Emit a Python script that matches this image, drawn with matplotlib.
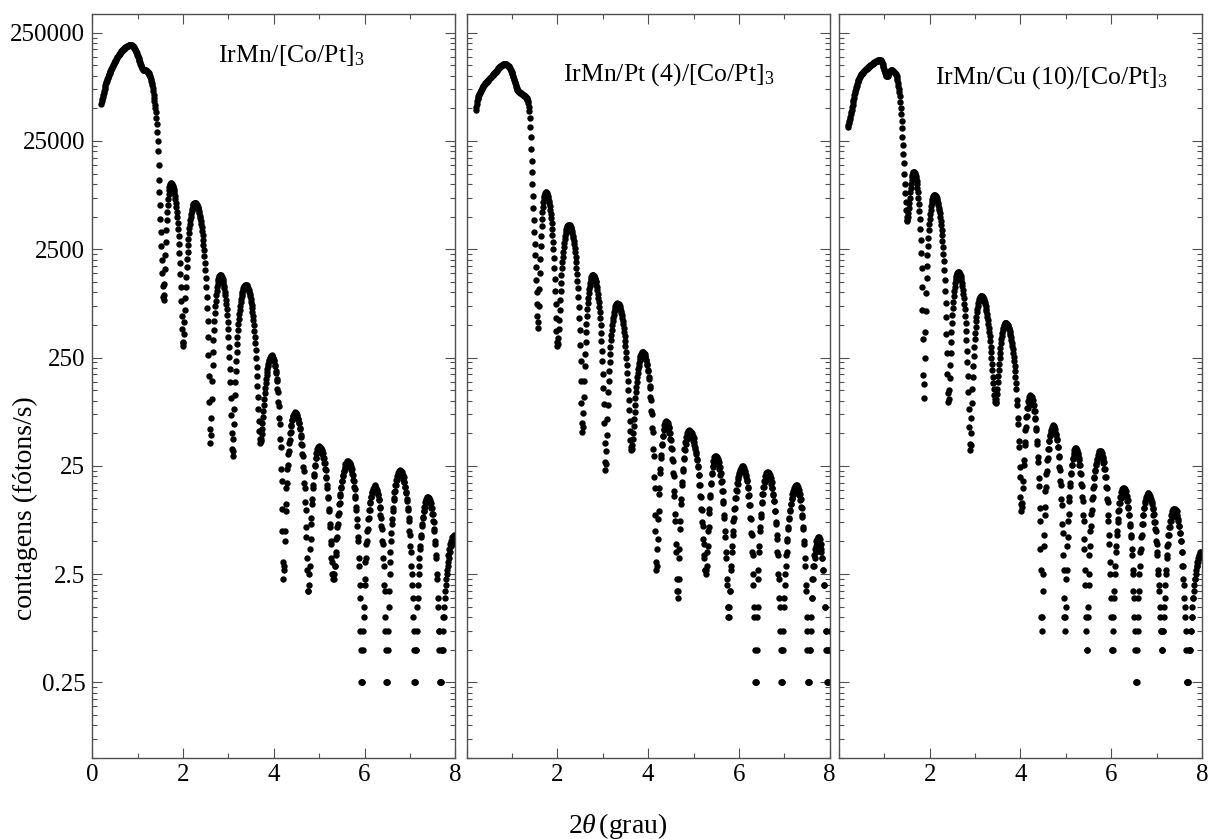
import numpy as np
import matplotlib
matplotlib.use("Agg")
import matplotlib.pyplot as plt
from matplotlib.ticker import FixedLocator, NullFormatter

plt.rcParams['font.family'] = ['Liberation Serif', 'DejaVu Serif']
plt.rcParams['mathtext.fontset'] = 'custom'
plt.rcParams['mathtext.rm'] = 'Liberation Serif'
plt.rcParams['mathtext.it'] = 'Liberation Serif:italic'

# 2theta scan (grau): starts at 0.20, one point every 0.01
scan_start = 0.20
scan_step = 0.01

# contagens (fotons/s)
counts_irmn = [
    55000, 58000, 61000, 64000, 67000, 70000, 73000, 76000, 79000, 82000,
    85000, 88000, 90000, 93000, 96000, 98000, 101000, 103000, 106000, 108000,
    111000, 113000, 116000, 118000, 121000, 123000, 126000, 128000, 131000, 133000,
    136000, 138000, 141000, 143000, 146000, 148000, 151000, 153000, 156000, 158000,
    160000, 162000, 164000, 166000, 168000, 170000, 172000, 174000, 176000, 177000,
    179000, 181000, 182000, 184000, 185000, 186000, 187000, 188000, 189000, 190000,
    191000, 191000, 192000, 192000, 193000, 193000, 192000, 191000, 190000, 188000,
    187000, 185000, 182000, 179000, 176000, 173000, 169000, 165000, 161000, 157000,
    153000, 149000, 145000, 141000, 137000, 133000, 129000, 125000, 122000, 119000,
    117000, 115000, 114000, 113000, 113000, 113000, 113000, 112000, 112000, 111000,
    111000, 110000, 109000, 107000, 106000, 104000, 102000, 100000, 97000, 94000,
    90000, 86000, 82000, 77000, 72000, 67000, 62000, 58000, 54000, 50000,
    46000, 41000, 36000, 30000, 25000, 20000, 15000, 11000, 8500, 6400,
    4800, 3600, 2700, 2000, 1500, 1150, 900, 850, 940, 1200,
    1640, 2220, 2930, 3740, 4610, 5530, 6430, 7310, 8120, 8830,
    9410, 9840, 10110, 10200, 10170, 10070, 9900, 9680, 9390, 9040,
    8650, 8210, 7730, 7220, 6680, 6120, 5550, 4980, 4400, 3850,
    3310, 2800, 2320, 1870, 1480, 1130, 840, 610, 460, 350,
    320, 343, 412, 528, 684, 883, 1124, 1395, 1700, 2040,
    2380, 2750, 3120, 3510, 3890, 4280, 4650, 4990, 5320, 5630,
    5900, 6140, 6340, 6490, 6610, 6680, 6700, 6690, 6640, 6570,
    6470, 6350, 6200, 6030, 5830, 5610, 5380, 5120, 4860, 4570,
    4280, 3980, 3680, 3370, 3070, 2760, 2460, 2160, 1880, 1620,
    1370, 1120, 910, 710, 540, 390, 265, 167, 98, 55,
    41, 48, 69, 104, 153, 212, 282, 362, 450, 542,
    642, 740, 840, 940, 1032, 1120, 1200, 1270, 1328, 1377,
    1412, 1433, 1440, 1435, 1421, 1398, 1365, 1324, 1275, 1219,
    1155, 1088, 1014, 937, 858, 776, 695, 613, 534, 457,
    383, 316, 252, 196, 147, 106, 73, 50, 36, 31,
    34, 44, 61, 83, 112, 147, 187, 232, 281, 333,
    389, 448, 508, 570, 631, 693, 753, 813, 868, 920,
    970, 1014, 1054, 1089, 1118, 1140, 1156, 1166, 1170, 1167,
    1159, 1146, 1127, 1103, 1075, 1042, 1005, 964, 919, 872,
    821, 769, 716, 661, 606, 551, 495, 442, 390, 339,
    292, 247, 206, 169, 136, 108, 84, 65, 52, 44,
    41, 42, 44, 49, 55, 62, 71, 81, 92, 104,
    117, 130, 144, 157, 171, 184, 197, 209, 220, 230,
    239, 248, 250, 259, 256, 262, 257, 258, 249, 247,
    238, 232, 212, 207, 186, 180, 158, 151, 128, 119,
    97, 90, 69, 61, 44, 37, 23.5, 18, 10, 6.25,
    3.25, 2.25, 2.75, 3.0, 5.0, 6.25, 9.5, 11, 15.5, 17.5,
    23.5, 25.5, 32, 34, 41, 43, 50, 51.5, 58.5, 59.5,
    66, 66.5, 72, 71.5, 76, 75, 78, 76, 77.5, 75,
    76.5, 72, 73, 68, 68, 62.5, 62, 55.5, 54.5, 48,
    46.5, 40, 38.5, 32, 30.5, 24.25, 22.5, 17.25, 15.75, 11.5,
    9.75, 6.75, 5.5, 3.5, 2.75, 1.75, 1.75, 2.0, 2.5, 3.0,
    4.25, 5.25, 7.25, 8.25, 11.0, 12.25, 15.5, 16.5, 20.25, 21.0,
    25.0, 25.25, 29.5, 29.25, 33.0, 32.5, 35.75, 35.0, 37.5, 36.0,
    38.0, 36.0, 37.5, 35.25, 36.5, 34.0, 34.75, 32.0, 32.5, 29.5,
    29.75, 26.5, 26.5, 23.25, 23.0, 19.75, 19.25, 16.5, 15.75, 13.0,
    12.5, 10.0, 9.5, 7.25, 6.75, 5.0, 4.75, 3.5, 3.25, 2.5,
    2.5, 2.25, 2.5, 2.25, 3.0, 3.0, 3.75, 4.0, 5.25, 5.5,
    6.75, 7.25, 8.75, 9.25, 11.0, 11.25, 13.25, 13.75, 15.75, 16.0,
    18.0, 18.25, 20.5, 20.25, 22.5, 22.25, 24.25, 23.75, 25.75, 25.0,
    26.75, 26.0, 27.5, 26.25, 27.75, 26.25, 27.25, 25.75, 26.5, 24.5,
    25.0, 23.0, 23.25, 21.0, 20.75, 18.5, 18.25, 16.0, 15.25, 13.25,
    12.5, 10.5, 9.75, 8.0, 7.0, 5.5, 5.0, 3.5, 3.0, 2.0,
    1.5, 0.75, 0.5, 0.25, 0.25, 0.25, 0.5, 0.75, 1.0, 1.25,
    2.0, 2.25, 3.25, 3.5, 4.75, 5.0, 6.25, 6.5, 8.0, 8.25,
    9.75, 9.75, 11.5, 11.25, 13.0, 12.75, 14.25, 14.0, 15.25, 14.75,
    16.0, 15.25, 16.5, 15.5, 16.25, 15.25, 15.75, 14.5, 15.0, 13.5,
    13.75, 12.0, 12.25, 10.5, 10.25, 8.75, 8.25, 7.0, 6.5, 5.0,
    4.75, 3.5, 3.0, 2.0, 1.75, 1.0, 0.75, 0.5, 0.25, 0.25,
    0.25, 0.5, 0.75, 1.25, 1.75, 2.5, 3.25, 4.0, 5.0, 6.0,
    7.25, 8.0, 9.5, 10.25, 12.0, 12.5, 14.25, 14.75, 16.5, 16.75,
    18.5, 18.5, 20.25, 20.0, 21.5, 20.75, 22.5, 21.25, 23.0, 21.5,
    22.25, 21.0, 21.75, 20.25, 20.75, 19.0, 19.5, 17.75, 17.75, 16.0,
    16.0, 14.25, 14.0, 12.25, 11.75, 10.25, 9.75, 8.25, 7.75, 6.25,
    5.75, 4.5, 4.0, 3.0, 2.5, 2.0, 1.5, 1.0, 0.75, 0.5,
    0.25, 0.25, 0.25, 0.5, 0.5, 0.75, 1.25, 1.5, 2.0, 2.5,
    3.0, 3.5, 4.25, 4.5, 5.5, 5.75, 7.0, 7.25, 8.25, 8.5,
    9.5, 9.5, 10.5, 10.5, 11.5, 11.25, 12.25, 12.0, 12.75, 12.25,
    12.75, 12.25, 12.5, 11.75, 12.0, 11.25, 11.25, 10.25, 10.25, 9.0,
    9.0, 7.75, 7.5, 6.5, 6.25, 5.0, 4.75, 3.75, 3.5, 2.5,
    2.25, 1.5, 1.25, 0.75, 0.75, 0.5, 0.25, 0.25, 0.25, 0.25,
    0.5, 0.5, 0.5, 0.75, 1.0, 1.0, 1.25, 1.5, 1.75, 2.0,
    2.25, 2.75, 2.5, 3.25, 3.0, 3.75, 3.5, 4.25, 4.0, 4.75,
    4.5, 5.0, 4.75, 5.5, 5.0, 5.5, 5.25, 5.75, 5.25, 5.5,
    5.25,
]

counts_irmn_pt = [
    48000, 51000, 55000, 58000, 61000, 63000, 65000, 67000, 68000, 69500,
    71000, 72500, 74000, 75500, 77000, 78500, 80000, 81000, 82000, 83000,
    84000, 85000, 86000, 87000, 88000, 89000, 90000, 91000, 92000, 93000,
    94000, 95000, 96000, 97000, 98000, 99000, 100000, 101000, 102000, 103000,
    104000, 105000, 106000, 107500, 109000, 110000, 111500, 113000, 114500, 116000,
    117000, 118500, 120000, 121000, 122000, 123000, 124000, 125000, 126000, 126500,
    127000, 127500, 128000, 128000, 128000, 128000, 128000, 127500, 127000, 126000,
    125000, 124000, 123000, 122000, 120000, 118000, 116000, 114000, 111000, 109000,
    106000, 103000, 100000, 97000, 94000, 91000, 88000, 85000, 82000, 79000,
    77000, 75000, 73500, 72500, 72000, 71500, 71000, 70500, 70000, 69500,
    69000, 68500, 68000, 67500, 67000, 66500, 66000, 65500, 65000, 64500,
    64000, 63000, 62000, 61000, 59500, 58000, 56000, 52000, 47000, 41000,
    34000, 27000, 21000, 16500, 13000, 10000, 7800, 6000, 4700, 3600,
    2800, 2200, 1700, 1300, 1000, 780, 600, 470, 537, 740,
    1065, 1509, 2048, 2667, 3349, 4070, 4800, 5521, 6203, 6822,
    7361, 7805, 8130, 8333, 8400, 8368, 8279, 8133, 7939, 7689,
    7382, 7043, 6655, 6235, 5798, 5330, 4845, 4360, 3867, 3390,
    2930, 2494, 2065, 1677, 1338, 1034, 781, 583, 437, 349,
    320, 335, 381, 456, 560, 691, 846, 1025, 1221, 1434,
    1661, 1896, 2138, 2382, 2624, 2859, 3086, 3299, 3495, 3674,
    3829, 3960, 4064, 4139, 4185, 4200, 4189, 4155, 4098, 4021,
    3922, 3804, 3667, 3514, 3345, 3163, 2969, 2767, 2557, 2343,
    2126, 1908, 1694, 1484, 1282, 1088, 906, 737, 584, 447,
    329, 230, 153, 96, 62, 51, 57.5, 77, 108, 152,
    207, 272, 345, 426, 512, 604, 697, 794, 887, 979,
    1065, 1146, 1219, 1284, 1339, 1383, 1414, 1433, 1440, 1435,
    1422, 1401, 1370, 1331, 1285, 1233, 1173, 1110, 1041, 965,
    888, 811, 732, 652, 575, 498, 422, 353, 290, 230,
    178, 132, 93, 62, 41, 27, 23, 25.75, 34, 48,
    67, 91, 120, 152, 189, 229, 271, 314, 360, 407,
    453, 499, 543, 584, 624, 661, 693, 722, 746, 765,
    778, 787, 790, 788, 782, 773, 760, 743, 722, 699,
    673, 644, 613, 579, 544, 508, 470, 432, 393, 355,
    317, 281, 246, 212, 181, 152, 126, 102, 82, 65,
    52, 43, 37, 35, 36, 39, 44, 50, 58, 68,
    79, 92, 105, 120, 135, 150, 165, 180, 195, 210,
    223, 236, 247, 257, 265, 271, 276, 279, 280, 279,
    277, 270, 271, 255, 256, 238, 238, 216, 214, 192,
    187, 164, 159, 136, 130, 107, 101, 80, 75, 56,
    51, 35.5, 30.5, 19.5, 15.5, 8.75, 6.25, 3.25, 2.75, 3.0,
    4.25, 5.25, 8.0, 9.5, 13.75, 15.75, 21.25, 23.25, 29.75, 31.75,
    38.5, 40, 47, 47.5, 54.5, 54, 60, 58.5, 63.5, 61,
    65, 61, 64, 59, 61.5, 55.5, 56.5, 50, 50.5, 43.75,
    43.25, 36.5, 35.5, 29, 27.5, 21.5, 20, 14.75, 13.25, 9.0,
    7.75, 4.75, 4.0, 2.25, 1.75, 1.5, 1.75, 2.25, 3.5, 4.25,
    6.5, 7.75, 11.0, 12.25, 16.5, 17.75, 22.5, 23.5, 29.0, 29.5,
    35.5, 35.0, 41.25, 40.0, 46.25, 44.0, 50.0, 47.25, 52.0, 49.0,
    53.0, 49.0, 52.5, 48.25, 51.5, 47.0, 49.75, 45.0, 47.5, 42.25,
    44.75, 39.25, 41.25, 36.0, 37.5, 32.25, 33.5, 28.25, 29.0, 24.5,
    24.75, 20.5, 20.5, 16.75, 16.5, 13.25, 13.0, 10.0, 9.75, 7.5,
    7.0, 5.25, 4.75, 3.75, 3.5, 2.75, 2.75, 2.5, 2.75, 3.0,
    4.0, 4.5, 6.25, 6.75, 9.25, 10.0, 13.0, 13.5, 17.0, 17.5,
    21.0, 21.25, 24.75, 24.5, 27.75, 26.75, 30.0, 28.5, 31.0, 29.0,
    31.0, 28.5, 30.25, 27.5, 29.0, 25.75, 27.0, 23.5, 24.25, 20.75,
    21.25, 17.75, 18.0, 14.75, 14.5, 11.75, 11.25, 8.75, 8.25, 6.25,
    5.5, 4.0, 3.5, 2.25, 2.0, 1.25, 1.25, 1.0, 1.0, 1.25,
    1.75, 1.75, 2.75, 3.0, 4.0, 4.5, 5.75, 6.25, 7.75, 8.25,
    10.0, 10.25, 12.5, 12.5, 15.0, 14.75, 17.25, 17.0, 19.5, 18.75,
    21.25, 20.5, 22.75, 21.75, 24.0, 22.75, 24.75, 23.0, 25.0, 23.0,
    24.5, 22.5, 23.75, 21.5, 22.5, 19.75, 20.5, 18.0, 18.5, 15.75,
    16.0, 13.25, 13.5, 10.75, 10.75, 8.25, 8.0, 6.0, 5.75, 4.0,
    3.75, 2.5, 2.0, 1.25, 1.0, 0.5, 0.25, 0.25, 0.25, 0.5,
    1.0, 1.25, 2.25, 2.75, 4.0, 4.5, 6.25, 6.75, 8.5, 9.0,
    11.25, 11.5, 13.75, 13.75, 16.0, 16.0, 18.25, 17.75, 20.0, 19.25,
    21.25, 20.0, 21.75, 20.25, 21.75, 20.0, 21.25, 19.5, 20.5, 18.5,
    19.25, 17.0, 17.75, 15.5, 15.75, 13.5, 13.75, 11.75, 11.75, 9.5,
    9.5, 7.5, 7.25, 5.75, 5.25, 4.0, 3.75, 2.5, 2.25, 1.5,
    1.25, 0.75, 0.5, 0.25, 0.25, 0.25, 0.5, 0.5, 0.75, 1.25,
    1.5, 2.0, 2.5, 3.0, 3.75, 4.0, 5.0, 5.25, 6.5, 6.75,
    8.0, 8.25, 9.5, 9.75, 11.0, 11.0, 12.5, 12.25, 13.75, 13.5,
    14.75, 14.25, 15.5, 15.0, 16.25, 15.5, 16.5, 15.5, 16.5, 15.25,
    16.0, 14.5, 15.0, 13.5, 13.75, 12.0, 12.25, 10.5, 10.25, 8.75,
    8.5, 6.75, 6.5, 5.0, 4.75, 3.5, 3.0, 2.0, 1.75, 1.0,
    0.75, 0.5, 0.25, 0.25, 0.25, 0.25, 0.5, 0.5, 0.75, 1.0,
    1.5, 1.5, 2.25, 2.25, 3.0, 3.0, 3.75, 3.5, 4.25, 4.0,
    5.0, 4.5, 5.25, 4.75, 5.5, 5.0, 5.5, 4.75, 5.25, 4.5,
    4.75, 4.0, 4.25, 3.5, 3.5, 2.75, 2.75, 2.0, 2.0, 1.25,
    1.25, 0.75, 0.75, 0.5, 0.5, 0.25, 0.25, 0.25, 0.5, 0.5,
    0.75,
]

counts_irmn_cu = [
    33500, 35000, 36500, 38500, 40000, 42000, 44000, 46000, 48500, 51000,
    54000, 57000, 60000, 63000, 66000, 69000, 72000, 75000, 78000, 81000,
    84000, 87000, 89500, 92000, 94000, 96000, 98000, 100000, 101500, 103000,
    104000, 105500, 107000, 108000, 109500, 110500, 111500, 112500, 113500, 114500,
    115500, 116500, 117500, 118500, 119500, 120500, 121500, 122500, 123500, 124500,
    125500, 126500, 127500, 128500, 129500, 130500, 131500, 132500, 133500, 134500,
    135500, 136000, 136500, 137000, 137500, 138000, 138500, 139000, 139500, 140000,
    140500, 141000, 140000, 138000, 135000, 132000, 128000, 124000, 120000, 116000,
    112000, 108000, 105000, 102000, 100000, 99000, 99000, 100000, 102000, 104000,
    106000, 108000, 110000, 111000, 112000, 112500, 112500, 112000, 111500, 111000,
    110000, 109000, 108000, 106500, 105000, 103500, 102000, 100000, 96000, 91000,
    86000, 81000, 76000, 71000, 65000, 57000, 50000, 44000, 38000, 33000,
    27000, 23000, 19000, 15500, 12500, 10000, 8200, 6800, 5700, 5000,
    4600, 4690, 4960, 5400, 5990, 6700, 7500, 8360, 9240, 10100,
    10900, 11610, 12200, 12640, 12910, 13000, 12940, 12740, 12420, 11970,
    11430, 10780, 10050, 9235, 8380, 7470, 6550, 5640, 4720, 3870,
    3060, 2320, 1680, 1130, 688, 367, 171, 105, 142, 249,
    426, 672, 983, 1346, 1753, 2210, 2694, 3206, 3730, 4275,
    4799, 5311, 5795, 6252, 6659, 7022, 7333, 7579, 7756, 7863,
    7900, 7880, 7820, 7720, 7585, 7410, 7200, 6960, 6690, 6390,
    6070, 5720, 5360, 4985, 4596, 4203, 3794, 3401, 3011, 2638,
    2278, 1931, 1609, 1309, 1036, 795, 586, 412, 276, 177,
    117, 97, 104, 126, 162, 212, 273, 345, 427, 518,
    614, 716, 819, 921, 1023, 1119, 1210, 1292, 1364, 1425,
    1475, 1511, 1533, 1540, 1534, 1517, 1490, 1454, 1408, 1350,
    1287, 1215, 1137, 1055, 968, 878, 788, 696, 607, 521,
    440, 360, 288, 225, 168, 121, 84, 57, 40, 35,
    38.75, 50, 69, 95, 127, 166, 210, 259, 311, 367,
    424, 483, 541, 598, 654, 706, 755, 799, 838, 870,
    896, 915, 926, 930, 928, 922, 912, 898, 880, 860,
    835, 808, 777, 745, 709, 672, 633, 594, 553, 513,
    472, 431, 392, 353, 316, 281, 248, 217, 190, 165,
    145, 127, 113, 103, 97, 95, 97, 104, 114, 129,
    147, 168, 192, 219, 247, 277, 308, 338, 368, 396,
    423, 447, 468, 486, 501, 512, 518, 520, 519, 516,
    511, 504, 495, 484, 471, 457, 441, 424, 405, 385,
    365, 344, 321, 299, 276, 253, 230, 208, 186, 164,
    144, 128, 102, 92, 69, 61, 42, 37, 24.5, 19.5,
    12.75, 11.0, 9.5, 10.5, 11.25, 15.75, 18.0, 25.5, 28.5, 38.5,
    41.75, 54.0, 56.5, 70.0, 71.5, 85.5, 85.0, 98.5, 96.0, 107,
    103, 112, 106, 111, 104, 108, 99, 101, 91, 92,
    81, 80.5, 69, 67, 56, 53.5, 42.75, 39.5, 30.25, 27,
    19.25, 16.25, 10.25, 7.75, 4.25, 2.75, 1.0, 0.75, 1.0, 1.75,
    2.5, 4.5, 5.75, 8.75, 10.5, 14.5, 16.0, 21.0, 22.5, 28.25,
    29.25, 35.5, 36.0, 42.5, 42.25, 48.5, 47.5, 53.5, 51.5, 57.0,
    54.0, 59.0, 55.0, 58.75, 54.0, 57.25, 51.75, 54.25, 48.0, 49.5,
    43.0, 43.75, 37.25, 37.0, 31.0, 30.25, 24.25, 23.0, 18.0, 16.5,
    12.25, 10.75, 7.25, 6.0, 3.75, 2.75, 1.5, 1.0, 0.75, 1.0,
    1.25, 2.25, 2.75, 4.5, 5.5, 7.75, 9.0, 11.75, 13.0, 16.25,
    17.25, 21.0, 21.5, 25.5, 25.5, 29.5, 29.0, 32.75, 31.5, 35.0,
    33.25, 36.25, 33.75, 36.25, 33.0, 35.0, 31.25, 32.75, 28.5, 29.5,
    25.25, 25.5, 21.25, 21.0, 17.0, 16.25, 12.75, 11.75, 8.75, 7.75,
    5.25, 4.25, 2.75, 2.0, 1.0, 0.75, 0.5, 0.5, 1.0, 1.25,
    2.0, 2.5, 3.75, 4.5, 6.25, 7.0, 9.0, 9.75, 12.25, 13.0,
    15.75, 16.25, 19.25, 19.5, 22.75, 22.5, 26.0, 25.25, 28.75, 27.75,
    31.25, 29.75, 33.0, 31.0, 34.0, 32.0, 34.5, 32.0, 34.0, 31.0,
    32.5, 29.0, 30.25, 26.5, 27.25, 23.25, 23.5, 19.75, 19.5, 16.0,
    15.5, 12.25, 11.5, 8.75, 7.75, 5.75, 4.75, 3.25, 2.5, 1.5,
    1.0, 0.5, 0.5, 0.5, 0.75, 1.0, 1.5, 1.75, 2.5, 3.0,
    4.0, 4.5, 5.75, 6.25, 7.5, 8.0, 9.5, 9.75, 11.25, 11.25,
    13.0, 12.5, 14.25, 13.5, 15.25, 14.25, 15.5, 14.5, 15.5, 14.25,
    15.25, 13.75, 14.5, 12.75, 13.25, 11.75, 12.0, 10.25, 10.5, 8.75,
    8.75, 7.25, 7.0, 5.75, 5.5, 4.25, 3.75, 2.75, 2.5, 1.75,
    1.5, 1.0, 0.75, 0.5, 0.25, 0.25, 0.25, 0.5, 0.75, 1.0,
    1.5, 1.75, 2.5, 3.0, 4.0, 4.25, 5.5, 5.75, 7.25, 7.25,
    8.75, 8.75, 10.25, 10.25, 11.75, 11.25, 12.75, 12.25, 13.5, 13.0,
    14.0, 13.0, 14.0, 13.0, 13.75, 12.5, 13.25, 11.75, 12.25, 11.0,
    11.5, 10.0, 10.25, 8.75, 9.0, 7.5, 7.5, 6.5, 6.25, 5.0,
    4.75, 4.0, 3.75, 2.75, 2.5, 2.0, 1.75, 1.25, 1.0, 0.75,
    0.75, 0.5, 0.5, 0.5, 0.75, 0.75, 1.0, 1.25, 1.5, 2.0,
    2.5, 2.75, 3.5, 3.75, 4.5, 4.75, 5.75, 5.75, 6.75, 6.75,
    7.75, 7.75, 8.75, 8.5, 9.5, 9.0, 10.0, 9.5, 10.0, 9.5,
    10.0, 9.5, 9.75, 9.0, 9.5, 8.5, 8.75, 7.75, 8.0, 7.0,
    7.0, 6.0, 6.0, 5.0, 5.0, 4.0, 4.0, 3.0, 3.0, 2.25,
    2.0, 1.5, 1.25, 1.0, 0.75, 0.5, 0.25, 0.25, 0.25, 0.25,
    0.25, 0.5, 0.5, 0.5, 0.5, 0.75, 0.75, 1.0, 1.0, 1.25,
    1.5, 1.5, 1.75, 2.0, 2.25, 2.25, 2.5, 2.75, 3.0, 3.0,
    3.25, 3.25, 3.5, 3.5, 3.75, 3.75, 4.0, 3.75, 4.0, 3.75,
    4.0,
]

series = [counts_irmn, counts_irmn_pt, counts_irmn_cu]
sample_names = ['IrMn/[Co/Pt]$_3$', 'IrMn/Pt (4)/[Co/Pt]$_3$', 'IrMn/Cu (10)/[Co/Pt]$_3$']
name_pos = [(0.346, 0.935), (0.265, 0.911), (0.265, 0.907)]

y_major = [0.25, 2.5, 25, 250, 2500, 25000, 250000]
y_major_labels = ['0.25', '2.5', '25', '250', '2500', '25000', '250000']
y_minor = [k * 0.25 * 10.0 ** n for n in range(-2, 6) for k in range(2, 10)]
x_major = [0, 2, 4, 6, 8]
x_minor = [1, 3, 5, 7]

fig = plt.figure(figsize=(12.08, 8.39), dpi=100)
lefts = [0.0764, 0.3863, 0.6945]
frame_col = '#505050'

for i, (counts, name) in enumerate(zip(series, sample_names)):
    ax = fig.add_axes([lefts[i], 0.0965, 0.3005, 0.8868])
    angle = scan_start + scan_step * np.arange(len(counts))
    ax.plot(angle, counts, 'o', ms=4.6, mew=0, color='black')
    ax.set_yscale('log')
    ax.set_xlim(0, 8)
    ax.set_ylim(0.05, 372000)

    ax.xaxis.set_major_locator(FixedLocator(x_major))
    ax.xaxis.set_minor_locator(FixedLocator(x_minor))
    ax.yaxis.set_major_locator(FixedLocator(y_major))
    ax.yaxis.set_minor_locator(FixedLocator(y_minor))
    ax.yaxis.set_minor_formatter(NullFormatter())
    if i == 0:
        ax.set_xticklabels(['0', '2', '4', '6', '8'])
        ax.set_yticklabels(y_major_labels)
    else:
        ax.set_xticklabels(['', '2', '4', '6', '8'])
        ax.set_yticklabels([''] * len(y_major))

    ax.tick_params(which='both', direction='in', top=True, right=True,
                   color=frame_col, width=0.8, labelsize=18)
    ax.tick_params(which='major', length=7)
    ax.tick_params(which='minor', length=3.5)
    ax.tick_params(axis='x', pad=4)
    ax.tick_params(axis='y', pad=5)
    for sp in ax.spines.values():
        sp.set_color(frame_col)
        sp.set_linewidth(1.0)

    ax.text(name_pos[i][0], name_pos[i][1], name, transform=ax.transAxes,
            fontsize=18.5, va='baseline', ha='left')

fig.text(0.0207, 0.3945, 'contagens (fótons/s)', rotation=90,
         ha='center', va='center', fontsize=20)
fig.text(0.511, 0.0155, r'2$\theta\,$(grau)', ha='center', va='center', fontsize=20)

fig.savefig('out.png', dpi=100)
